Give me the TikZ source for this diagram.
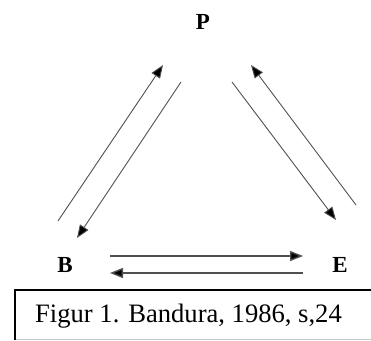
\documentclass[tikz,border=0pt]{standalone}
\usepackage{fontspec}
\setmainfont{Liberation Serif}
\usetikzlibrary{arrows.meta}
\definecolor{lgray}{HTML}{505050}
\definecolor{fgray}{HTML}{C8C8C8}

\tikzset{
  corner/.style={font=\fontsize{23}{23}\selectfont\bfseries, inner sep=0pt},
  arr/.style={draw=lgray, line width=0.9pt, -{Triangle[length=13pt, width=10pt, fill=black]}},
  harr/.style={draw=lgray, line width=1.4pt, -{Triangle[length=13pt, width=10pt, fill=black]}}
}

\begin{document}
\begin{tikzpicture}[x=1pt, y=-1pt]
\useasboundingbox (0,0) rectangle (371,340);
% factors
\node[corner] (P) at (203,22) {P};
\node[corner] (B) at (65,265) {B};
\node[corner] (E) at (340,265) {E};
% arrow ends
\coordinate (bp0) at (58,221);  \coordinate (bp1) at (163,65);
\coordinate (pb0) at (181,82);  \coordinate (pb1) at (77,238);
\coordinate (pe0) at (232,82);  \coordinate (pe1) at (336,220);
\coordinate (ep0) at (356,205); \coordinate (ep1) at (251,65);
\coordinate (be0) at (110,256); \coordinate (be1) at (303,256);
\coordinate (eb0) at (303,273); \coordinate (eb1) at (110,273);
\draw[arr] (bp0) -- (bp1);
\draw[arr] (pb0) -- (pb1);
\draw[arr] (pe0) -- (pe1);
\draw[arr] (ep0) -- (ep1);
\draw[harr] (be0) -- (be1);
\draw[harr] (eb0) -- (eb1);
% caption box
\draw[fgray, line width=0.8pt] (15,339) -- (371,339);
\draw[black, line width=1.5pt] (15,340) -- (15,290) -- (371,290);
\node[anchor=base west, inner sep=0pt, font=\fontsize{26.6}{26.6}\selectfont]
  (cap) at (35,322) {Figur 1. Bandura, 1986, s,24};
\end{tikzpicture}
\end{document}
